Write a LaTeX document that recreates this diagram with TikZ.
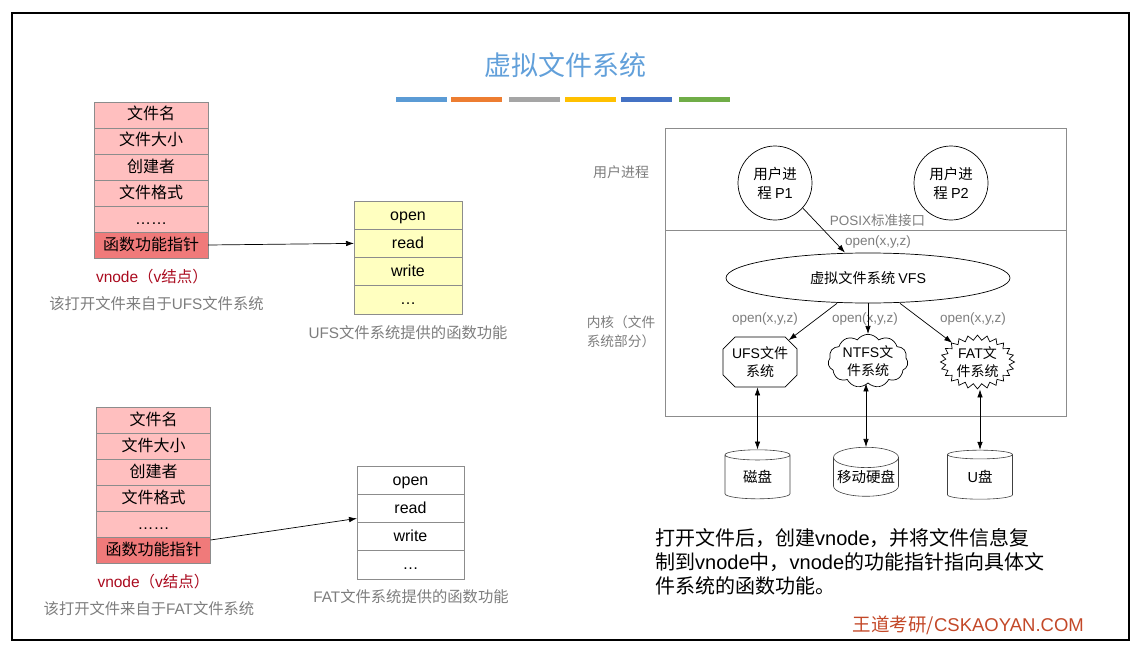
\documentclass[tikz,border=0pt]{standalone}
\usepackage{fontspec}
\setmainfont{Noto Sans CJK SC}
\newfontfamily\lat{Liberation Sans}
\usetikzlibrary{shapes.geometric,shapes.misc,shapes.symbols,arrows.meta}
\definecolor{ttl}{RGB}{98,160,218}
\definecolor{b1}{RGB}{91,155,213}
\definecolor{b2}{RGB}{237,125,49}
\definecolor{b3}{RGB}{165,165,165}
\definecolor{b4}{RGB}{255,192,0}
\definecolor{b5}{RGB}{68,114,196}
\definecolor{b6}{RGB}{112,173,71}
\definecolor{pinkc}{RGB}{255,191,191}
\definecolor{redc}{RGB}{240,122,122}
\definecolor{yelc}{RGB}{255,255,192}
\definecolor{bordc}{RGB}{140,140,140}
\definecolor{grayt}{RGB}{125,125,125}
\definecolor{vred}{RGB}{170,10,30}
\definecolor{wm}{RGB}{195,72,40}
\begin{document}
\begin{tikzpicture}[x=1pt,y=-1pt,
  cell/.style={rectangle,draw=bordc,line width=0.8pt,inner sep=0pt,outer sep=0pt,
    text height=12.5pt,text depth=2.5pt,font=\fontsize{16}{19}\selectfont},
  pcell/.style={cell,fill=pinkc,minimum width=114pt,minimum height=26pt},
  rcell/.style={cell,fill=redc,minimum width=114pt,minimum height=26pt},
  ycell/.style={cell,fill=yelc,minimum width=108pt,minimum height=28.25pt},
  wcell/.style={cell,fill=white,minimum width=107pt,minimum height=28.25pt},
  vlabel/.style={text=vred,font=\fontsize{15.5}{18}\selectfont,inner sep=0pt},
  captxt/.style={text=grayt,font=\fontsize{15.3}{18}\selectfont,inner sep=0pt},
  glab/.style={text=grayt,font=\fontsize{13.5}{17}\selectfont,inner sep=0pt},
  proc/.style={circle,draw,line width=0.7pt,minimum size=74pt,inner sep=0pt,align=center,
    font=\fontsize{14.5}{19}\selectfont},
  fsb/.style={draw,line width=0.7pt,align=center,inner sep=0pt,font=\fontsize{14}{18}\selectfont},
  disk/.style={cylinder,shape border rotate=90,draw=black!75,line width=0.6pt,aspect=0.35,
    minimum width=65pt,minimum height=49pt,inner sep=0pt,font=\fontsize{14.5}{18}\selectfont},
  arr/.style={-{Latex[length=8pt,width=5.5pt]},line width=0.7pt},
  darr/.style={{Latex[length=8pt,width=5.5pt]}-{Latex[length=8pt,width=5.5pt]},line width=0.7pt},
  bar/.style={line width=5pt}
]
\useasboundingbox (0,0) rectangle (1142,650);
\draw[line width=1.8pt] (12,13) rectangle (1129,640);

% title
\node[text=ttl,font=\fontsize{27}{30}\selectfont,inner sep=0pt] (title) at (565,65) {虚拟文件系统};
\draw[bar,b1] (396,99.5) -- (447,99.5);
\draw[bar,b2] (451,99.5) -- (502,99.5);
\draw[bar,b3] (509,99.5) -- (560,99.5);
\draw[bar,b4] (565,99.5) -- (616,99.5);
\draw[bar,b5] (621,99.5) -- (672,99.5);
\draw[bar,b6] (679,99.5) -- (730,99.5);

% top-left vnode table
\node[pcell] (a1) at (151,115) {文件名};
\node[pcell] (a2) at (151,141) {文件大小};
\node[pcell] (a3) at (151,167) {创建者};
\node[pcell] (a4) at (151,193) {文件格式};
\node[pcell] (a5) at (151,219) {\lat ……};
\node[rcell] (a6) at (151,245) {函数功能指针};
\node[vlabel] (av) at (152,277) {{\lat vnode}（{\lat v}结点）};
\node[captxt] (ac) at (156.5,304) {该打开文件来自于{\lat UFS}文件系统};

% UFS function table
\node[ycell] (u1) at (408,215.1) {\lat open};
\node[ycell] (u2) at (408,243.4) {\lat read};
\node[ycell] (u3) at (408,271.6) {\lat write};
\node[ycell] (u4) at (408,299.9) {\lat …};
\node[captxt] (uc) at (408,333) {{\lat UFS}文件系统提供的函数功能};
\draw[arr] (a6.east) -- (u2.west);

% bottom-left vnode table
\node[pcell] (f1) at (153.5,420) {文件名};
\node[pcell] (f2) at (153.5,446) {文件大小};
\node[pcell] (f3) at (153.5,472) {创建者};
\node[pcell] (f4) at (153.5,498) {文件格式};
\node[pcell] (f5) at (153.5,524) {\lat ……};
\node[rcell] (f6) at (153.5,550) {函数功能指针};
\node[vlabel] (fv) at (153.5,582) {{\lat vnode}（{\lat v}结点）};
\node[captxt] (fc) at (149,609) {该打开文件来自于{\lat FAT}文件系统};

% FAT function table
\node[wcell] (w1) at (410.5,480.1) {\lat open};
\node[wcell] (w2) at (410.5,508.4) {\lat read};
\node[wcell] (w3) at (410.5,536.6) {\lat write};
\node[wcell] (w4) at (410.5,564.9) {\lat …};
\node[captxt] (wc) at (411,597) {{\lat FAT}文件系统提供的函数功能};
\draw[arr] ([yshift=10pt]f6.east) -- ([yshift=-10pt]w2.west);

% right side system box
\draw[draw=black!45,line width=0.8pt] (665,128) rectangle (1066,416);
\draw[draw=black!45,line width=0.8pt] (665,230) -- (1066,230);
\node[glab,font=\fontsize{14}{17}\selectfont] (lu) at (621,172) {用户进程};
\node[glab,font=\fontsize{13.7}{19}\selectfont,align=left] (lk) at (621,332) {内核（文件\\系统部分）};

\node[proc] (p1) at (775,183) {用户进\\程 {\lat P1}};
\node[proc] (p2) at (951,183) {用户进\\程 {\lat P2}};
\node[glab] (posix) at (877.5,220) {{\lat POSIX}标准接口};
\node[glab,font=\lat\fontsize{13.5}{17}\selectfont] (o0) at (878,242) {open(x,y,z)};

\node[ellipse,draw,line width=0.7pt,minimum width=284pt,minimum height=50pt,inner sep=0pt,
  font=\fontsize{14.2}{18}\selectfont] (vfs) at (868,278) {虚拟文件系统 {\lat VFS}};
\draw[arr] (p1.-42) -- ([xshift=-23pt]vfs.north);

\node[fsb,chamfered rectangle,chamfered rectangle xsep=6pt,chamfered rectangle ysep=6pt,
  minimum width=74pt,minimum height=50pt] (ufs) at (760,362) {{\lat UFS}文件\\系统};
\node[fsb,cloud,cloud puffs=11,cloud puff arc=110,aspect=1.6,minimum width=80pt,minimum height=48pt]
  (ntfs) at (868,361) {{\lat NTFS}文\\件系统};
\node[fsb,starburst,starburst points=24,starburst point height=5pt,random starburst=0,
  minimum width=74pt,minimum height=50pt] (fat) at (977.5,362) {{\lat FAT}文\\件系统};

\node[glab,font=\lat\fontsize{13.5}{17}\selectfont] (o1) at (765,319) {open(x,y,z)};
\node[glab,font=\lat\fontsize{13.5}{17}\selectfont] (o2) at (865,319) {open(x,y,z)};
\node[glab,font=\lat\fontsize{13.5}{17}\selectfont] (o3) at (973,319) {open(x,y,z)};

\draw[arr] ([xshift=-31pt]vfs.south) -- (ufs);
\draw[arr] (vfs.south) -- (ntfs.north);
\draw[arr] ([xshift=32pt]vfs.south) -- (fat);

\node[disk] (d1) at (757.5,477) {磁盘};
\node[disk] (d2) at (866,477) {移动硬盘};
\node[disk] (d3) at (980,477) {{\lat U}盘};

\draw[darr] (d1.north) -- (d1.north |- ufs.south);
\draw[darr] (d2.north) -- (d2.north |- ntfs.south);
\draw[darr] (d3.north) -- (d3.north |- fat.south);

% explanation
\node[anchor=north west,align=left,inner sep=0pt,font=\fontsize{20}{24}\selectfont] (expl) at (655,528)
  {打开文件后，创建{\lat vnode}，并将文件信息复\\制到{\lat vnode}中，{\lat vnode}的功能指针指向具体文\\件系统的函数功能。};
\node[text=wm,font=\fontsize{18.5}{22}\selectfont,inner sep=0pt,anchor=east] (wmk) at (1084,625)
  {王道考研/{\lat CSKAOYAN.COM}};
\end{tikzpicture}
\end{document}
